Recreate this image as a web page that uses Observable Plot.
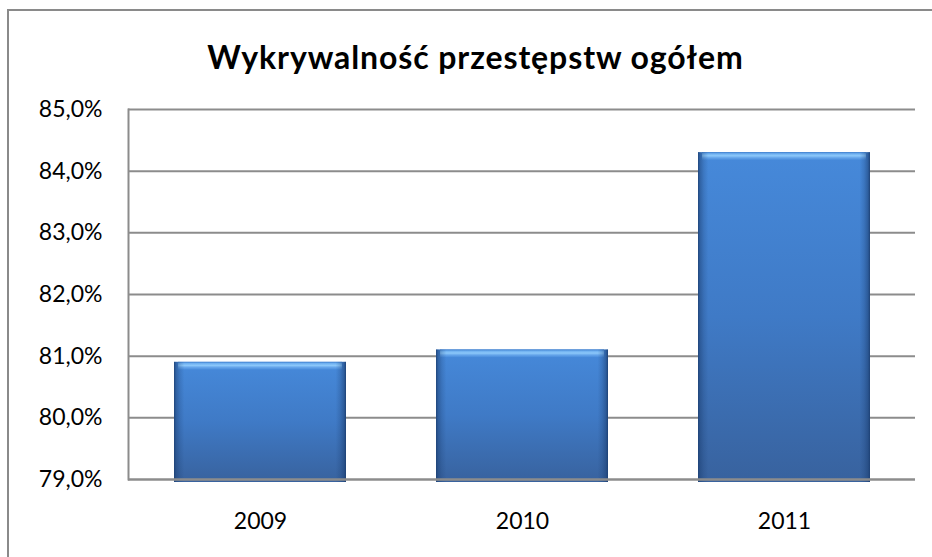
<!DOCTYPE html>
<html>
<head>
<meta charset="utf-8">
<script src="https://cdn.jsdelivr.net/npm/d3@7"></script>
<script src="https://cdn.jsdelivr.net/npm/@observablehq/plot@0.6"></script>
<style>
  html, body { margin: 0; padding: 0; background: #fff; }
  #wrap { position: relative; width: 932px; height: 557px; overflow: hidden; font-family: Lato, "Open Sans", sans-serif; }
  #frame { position: absolute; left: 7px; top: 9px; width: 1000px; height: 700px; border-left: 2px solid #8a8a8a; border-top: 2px solid #8a8a8a; }
  #title { position: absolute; left: 0; top: 38px; width: 951px; text-align: center; font-family: Lato, sans-serif; font-weight: bold; font-size: 32px; letter-spacing: 0.9px; color: #000; line-height: 38px; }
  #chart { position: absolute; left: 0; top: 0; }
</style>
</head>
<body>
<div id="wrap">
  <div id="frame"></div>
  <div id="chart"></div>
  <div id="title">Wykrywalność przestępstw ogółem</div>
</div>
<script>
// Data
const years = ["2009", "2010", "2011"];
const values = [80.9, 81.1, 84.3];
const yTicks = [79, 80, 81, 82, 83, 84, 85];
const yDomain = [79, 85];

const data = years.map((year, i) => ({year, value: values[i]}));
const fmt = d => d.toFixed(1).replace(".", ",") + "%";

const NS = "http://www.w3.org/2000/svg";
function gradient(id, stops, horizontal) {
  const g = document.createElementNS(NS, "linearGradient");
  g.setAttribute("id", id);
  g.setAttribute("x1", "0"); g.setAttribute("y1", "0");
  g.setAttribute("x2", horizontal ? "1" : "0"); g.setAttribute("y2", horizontal ? "0" : "1");
  for (const [off, color, op] of stops) {
    const s = document.createElementNS(NS, "stop");
    s.setAttribute("offset", off);
    s.setAttribute("stop-color", color);
    s.setAttribute("stop-opacity", op == null ? 1 : op);
    g.appendChild(s);
  }
  return g;
}
const defs = () => {
  const d = document.createElementNS(NS, "defs");
  d.appendChild(gradient("bodyGrad", [["0", "#4689da"], ["0.5", "#3f7ac6"], ["1", "#38629e"]]));
  d.appendChild(gradient("edgeGrad", [
    ["0", "#1c3f72", 0.9], ["0.012", "#1c3f72", 0.5], ["0.035", "#1c3f72", 0.2], ["0.06", "#1c3f72", 0],
    ["0.94", "#1c3f72", 0], ["0.965", "#1c3f72", 0.22], ["0.988", "#1c3f72", 0.55], ["1", "#1c3f72", 0.95]
  ], true));
  d.appendChild(gradient("hlGrad", [["0", "#3b7ccc"], ["0.2", "#6fb0f0"], ["0.45", "#8cc8fa"], ["0.7", "#64a4ea"], ["1", "#4689da"]]));
  d.appendChild(gradient("baseGrad", [["0", "#3a5f95"], ["1", "#2a4a7a"]]));
  const g = document.createElementNS(NS, "g");
  g.appendChild(d);
  return g;
};

const gridColor = "#8c8c8c";

const chart = Plot.plot({
  width: 932,
  height: 557,
  marginLeft: 128,
  marginRight: 17,
  marginTop: 109,
  marginBottom: 78,
  style: {fontFamily: "Lato, 'Open Sans', sans-serif", fontSize: "23px", color: "#000", background: "transparent"},
  x: {domain: years, paddingInner: 0.344, paddingOuter: 0.172, label: null},
  y: {domain: yDomain, label: null},
  marks: [
    defs,
    Plot.ruleY(yTicks.slice(1), {y: d => d, stroke: gridColor, strokeWidth: 2}),
    Plot.frame({anchor: "left", stroke: gridColor, strokeWidth: 2}),
    Plot.barY(data, {x: "year", y1: () => yDomain[0], y2: "value", fill: "url(#bodyGrad)", insetBottom: -3}),
    Plot.barY(data, {x: "year", y1: "value", y2: "value", fill: "url(#hlGrad)", insetBottom: -8, insetLeft: 4, insetRight: 4}),
    Plot.barY(data, {x: "year", y1: () => yDomain[0], y2: "value", fill: "url(#edgeGrad)", insetBottom: -3}),
    Plot.ruleY([yDomain[0]], {stroke: gridColor, strokeWidth: 2.5}),
    Plot.axisY({ticks: yTicks, tickSize: 0, tickPadding: 26, tickFormat: fmt, fontSize: 23, label: null}),
    Plot.axisX({tickSize: 0, tickPadding: 33, fontSize: 23, label: null})
  ]
});
document.getElementById("chart").appendChild(chart);
</script>
</body>
</html>
